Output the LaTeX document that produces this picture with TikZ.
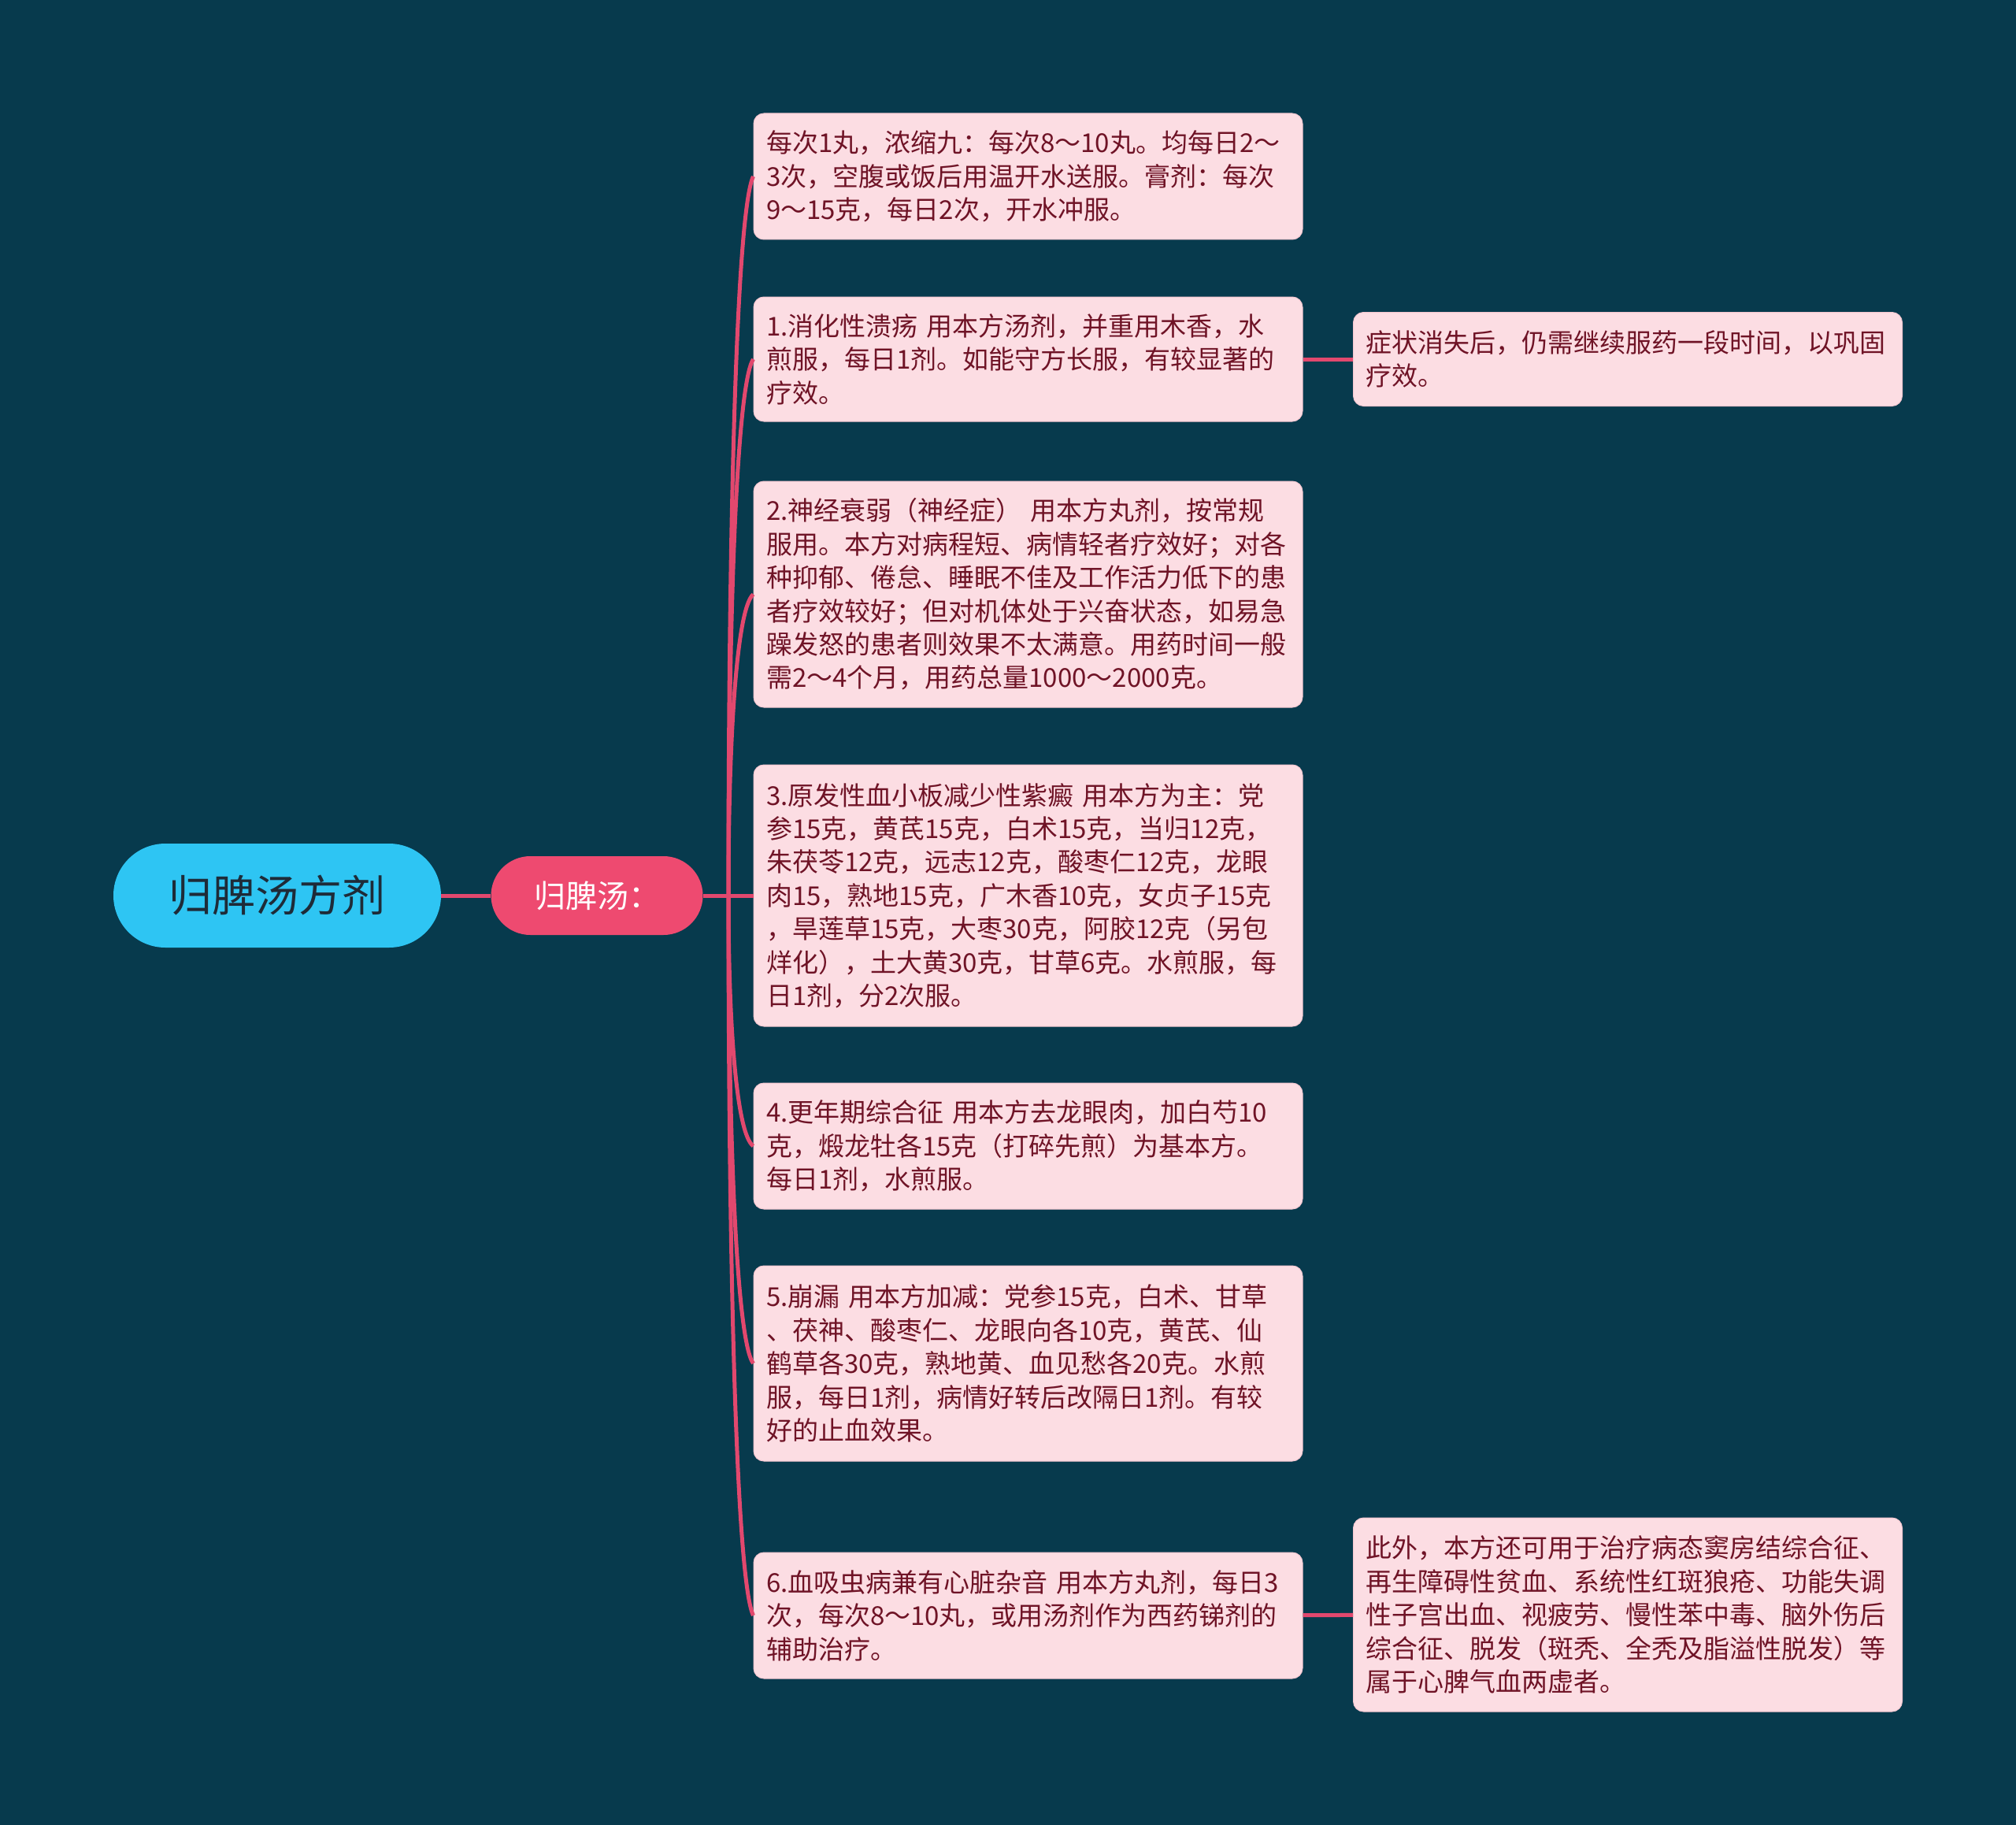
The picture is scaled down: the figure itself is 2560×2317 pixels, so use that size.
\documentclass[tikz,border=0pt]{standalone}
\usepackage{fontspec}
\setmainfont{Noto Sans CJK SC}
\usetikzlibrary{calc}
\definecolor{BgTeal}{HTML}{073A4D}
\definecolor{RootBlue}{HTML}{2EC5F3}
\definecolor{RootText}{HTML}{1E2B38}
\definecolor{SecPink}{HTML}{EE4A70}
\definecolor{LinkPink}{HTML}{E2486E}
\definecolor{LeafPink}{HTML}{FCDDE3}
\definecolor{LeafEdge}{HTML}{F4C6D0}
\definecolor{LeafText}{HTML}{6F1326}

\begin{document}
\begin{tikzpicture}[x=1pt, y=-1pt,
        link/.style={draw=LinkPink, line width=5pt},
        root/.style={rectangle, rounded corners=66pt, fill=RootBlue, text=RootText, minimum width=416pt, minimum height=132pt, font=\fontsize{55}{60}\selectfont},
        sec/.style={rectangle, rounded corners=50pt, fill=SecPink, text=white, minimum width=269pt, minimum height=100pt, font=\fontsize{40}{46}\selectfont},
        leaf/.style={rectangle, rounded corners=13pt, fill=LeafPink, draw=LeafEdge, line width=1pt, text=LeafText, text width=665pt, align=left, inner xsep=16pt, inner ysep=0pt, minimum width=697pt, font=\fontsize{33}{42.4}\selectfont}]
        \fill[BgTeal] (0,0) rectangle (2560,2317);
        \useasboundingbox (0,0) rectangle (2560,2317);
        \node[root] (gp) at (352,1137) {归脾汤方剂};
        \node[sec] (gpt) at (758,1137) {归脾汤：};
        \node[leaf, minimum height=160pt] (l0) at (1305.5,224) {每次1丸，浓缩九：每次8～10丸。均每日2～\\3次，空腹或饭后用温开水送服。膏剂：每次\\9～15克，每日2次，开水冲服。};
        \node[leaf, minimum height=158pt] (l1) at (1305.5,456) {1.消化性溃疡 用本方汤剂，并重用木香，水\\煎服，每日1剂。如能守方长服，有较显著的\\疗效。};
        \node[leaf, minimum height=287pt] (l2) at (1305.5,754.5) {2.神经衰弱（神经症） 用本方丸剂，按常规\\服用。本方对病程短、病情轻者疗效好；对各\\种抑郁、倦怠、睡眠不佳及工作活力低下的患\\者疗效较好；但对机体处于兴奋状态，如易急\\躁发怒的患者则效果不太满意。用药时间一般\\需2～4个月，用药总量1000～2000克。};
        \node[leaf, minimum height=332pt] (l3) at (1305.5,1137) {3.原发性血小板减少性紫癜 用本方为主：党\\参15克，黄芪15克，白术15克，当归12克，\\朱茯苓12克，远志12克，酸枣仁12克，龙眼\\肉15，熟地15克，广木香10克，女贞子15克\\，旱莲草15克，大枣30克，阿胶12克（另包\\烊化），土大黄30克，甘草6克。水煎服，每\\日1剂，分2次服。};
        \node[leaf, minimum height=160pt] (l4) at (1305.5,1455) {4.更年期综合征 用本方去龙眼肉，加白芍10\\克，煅龙牡各15克（打碎先煎）为基本方。\\每日1剂，水煎服。};
        \node[leaf, minimum height=248pt] (l5) at (1305.5,1731) {5.崩漏 用本方加减：党参15克，白术、甘草\\、茯神、酸枣仁、龙眼向各10克，黄芪、仙\\鹤草各30克，熟地黄、血见愁各20克。水煎\\服，每日1剂，病情好转后改隔日1剂。有较\\好的止血效果。};
        \node[leaf, minimum height=160pt] (l6) at (1305.5,2051) {6.血吸虫病兼有心脏杂音 用本方丸剂，每日3\\次，每次8～10丸，或用汤剂作为西药锑剂的\\辅助治疗。};
        \node[leaf, minimum height=119pt] (r1) at (2067,456) {症状消失后，仍需继续服药一段时间，以巩固\\疗效。};
        \node[leaf, minimum height=246pt] (r2) at (2067,2050) {此外，本方还可用于治疗病态窦房结综合征、\\再生障碍性贫血、系统性红斑狼疮、功能失调\\性子宫出血、视疲劳、慢性苯中毒、脑外伤后\\综合征、脱发（斑秃、全秃及脂溢性脱发）等\\属于心脾气血两虚者。};
        \coordinate (trunk) at (925,1137);
        \draw[link] (gp) -- (gpt);
        \draw[link] (gpt.east) -- (trunk);
        \foreach \leaf in {l0,l1,l2,l3,l4,l5,l6}
            \draw[link] (trunk) .. controls ($(trunk)!0.5!(trunk|-\leaf.west)$)
                and ($(trunk)!0.95!(trunk|-\leaf.west)+(9.6,0)$) .. (\leaf.west);
        \draw[link] (l1) -- (r1);
        \draw[link] (l6) -- (r2);
    \end{tikzpicture}
\end{document}
